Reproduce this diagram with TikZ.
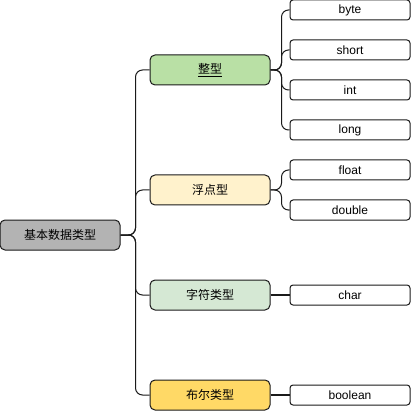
\documentclass[tikz,border=0pt]{standalone}
\usepackage{fontspec}
\setmainfont{Liberation Sans}
\newfontfamily\cjk{Noto Sans CJK SC}
\usepackage{xcolor}
\usepackage{tikz}
\usetikzlibrary{
  positioning
}
\definecolor{dtRoot}{HTML}{B3B3B3}
\definecolor{dtInt}{HTML}{B9E0A5}
\definecolor{dtFloat}{HTML}{FFF2CC}
\definecolor{dtChar}{HTML}{D5E8D4}
\definecolor{dtBool}{HTML}{FFD966}
\definecolor{dtLine}{HTML}{1A1A1A}
\tikzset{
  dtnode/.style={
    draw=dtLine, line width=1pt, inner sep=0pt, align=center,
    font=\fontsize{12}{14}\selectfont
  },
  rootbox/.style={dtnode, fill=dtRoot, rounded corners=5pt,
    minimum width=120pt, minimum height=30pt, font=\cjk\fontsize{12}{14}\selectfont},
  kindbox/.style={dtnode, rounded corners=5pt,
    minimum width=120pt, minimum height=30pt, font=\cjk\fontsize{12}{14}\selectfont},
  leafbox/.style={dtnode, fill=white, rounded corners=3pt,
    minimum width=120pt, minimum height=20pt},
  branch/.style={line width=1pt, dtLine, rounded corners=7pt},
  stem/.style={line width=2pt, dtLine}
}

\begin{document}
\begin{tikzpicture}[x=1pt, y=-1pt, node distance=19pt]
  \useasboundingbox (0,0) rectangle (411,411);
  % root and the four kinds
  \node[rootbox] (basic) at (60,235) {基本数据类型};
  \node[kindbox, fill=dtInt] (integer) at (210,70) {\underline{整型}};
  \node[kindbox, fill=dtFloat] (floating) at (210,190) {浮点型};
  \node[kindbox, fill=dtChar] (character) at (210,295) {字符类型};
  \node[kindbox, fill=dtBool] (logical) at (210,395) {布尔类型};
  % leaves
  \node[leafbox] (byte) at (350,10) {byte};
  \node[leafbox, below=of byte] (short) {short};
  \node[leafbox, below=of short] (int) {int};
  \node[leafbox, below=of int] (long) {long};
  \node[leafbox, below=of long] (float) {float};
  \node[leafbox, below=of float] (double) {double};
  \node[leafbox, right=of character] (char) {char};
  \node[leafbox, right=of logical] (boolean) {boolean};
  % connectors
  \foreach \kind in {integer, floating, character, logical}
    \draw[branch] (basic.east) -- ++(15,0) |- (\kind.west);
  \foreach \leaf in {byte, short, int, long}
    \draw[branch] (integer.east) -- ++(11,0) |- (\leaf.west);
  \foreach \leaf in {float, double}
    \draw[branch] (floating.east) -- ++(11,0) |- (\leaf.west);
  \draw[stem] (character.east) -- (char.west);
  \draw[stem] (logical.east) -- (boolean.west);
\end{tikzpicture}
\end{document}
